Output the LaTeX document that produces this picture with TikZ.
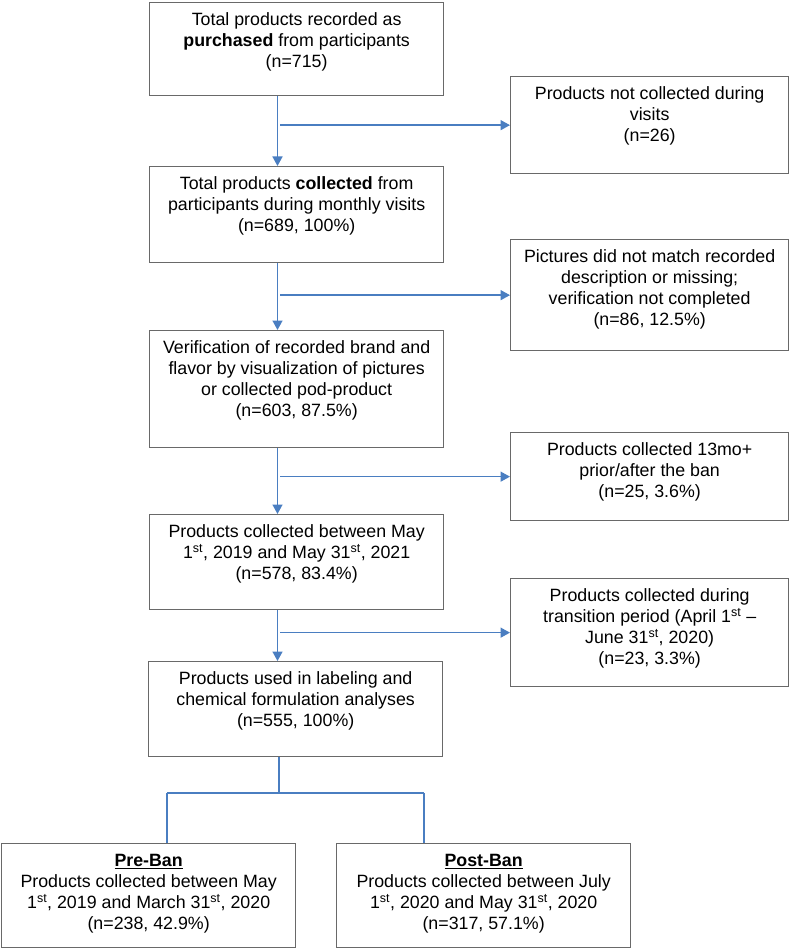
\documentclass[tikz,border=0pt]{standalone}
\usepackage{fontspec}
\setmainfont{Liberation Sans}
\usetikzlibrary{arrows.meta}
\definecolor{lineblue}{RGB}{74,126,193}
\definecolor{boxgray}{RGB}{105,105,105}
\newcommand{\bxt}[3]{\parbox[c][#2][t]{#1}{\centering\rule{0pt}{23pt}#3}}
\tikzset{
  box/.style={draw=boxgray, line width=1.3pt, inner sep=0pt, anchor=north west, fill=white,
    font=\fontsize{17.8pt}{21pt}\selectfont},
  arr/.style={draw=lineblue, line width=1.5pt, -{Triangle[width=10pt,length=9.5pt]}},
  conn/.style={draw=lineblue, line width=1.5pt}
}
\begin{document}
\begin{tikzpicture}[x=1pt,y=-1pt]
\useasboundingbox (0,0) rectangle (791,949);
% main column
\node[box] (b1) at (149,2) {\bxt{294pt}{93pt}{Total products recorded as\\ \textbf{purchased} from participants\\ (n=715)}};
\node[box] (b2) at (149,166) {\bxt{294pt}{96pt}{Total products \textbf{collected} from\\ participants during monthly visits\\ (n=689, 100\%)}};
\node[box] (b3) at (149,330) {\bxt{294pt}{117pt}{Verification of recorded brand and\\ flavor by visualization of pictures\\ or collected pod-product\\ (n=603, 87.5\%)}};
\node[box] (b4) at (149,514) {\bxt{294pt}{95pt}{Products collected between May\\ 1\textsuperscript{st}, 2019 and May 31\textsuperscript{st}, 2021\\ (n=578, 83.4\%)}};
\node[box] (b5) at (148,661) {\bxt{294pt}{95pt}{Products used in labeling and\\ chemical formulation analyses\\ (n=555, 100\%)}};
% side column
\node[box] (s1) at (510,76) {\bxt{278pt}{97pt}{Products not collected during\\ visits\\ (n=26)}};
\node[box] (s2) at (510,239) {\bxt{278pt}{111pt}{Pictures did not match recorded\\ description or missing;\\ verification not completed\\ (n=86, 12.5\%)}};
\node[box] (s3) at (510,432) {\bxt{278pt}{88pt}{Products collected 13mo+\\ prior/after the ban\\ (n=25, 3.6\%)}};
\node[box] (s4) at (510,578) {\bxt{278pt}{108pt}{Products collected during\\ transition period (April 1\textsuperscript{st} --\\ June 31\textsuperscript{st}, 2020)\\ (n=23, 3.3\%)}};
% bottom
\node[box] (pre) at (1,843) {\bxt{294pt}{104pt}{\underline{\textbf{Pre-Ban}}\\ Products collected between May\\ 1\textsuperscript{st}, 2019 and March 31\textsuperscript{st}, 2020\\ (n=238, 42.9\%)}};
\node[box] (post) at (336,843) {\bxt{294pt}{104pt}{\underline{\textbf{Post-Ban}}\\ Products collected between July\\ 1\textsuperscript{st}, 2020 and May 31\textsuperscript{st}, 2020\\ (n=317, 57.1\%)}};
% connectors
\coordinate (vx) at (277.5,0);
\coordinate (hx) at (280,0);
\draw[arr] (b1.south -| vx) -- (b2.north -| vx);
\draw[arr] (b2.south -| vx) -- (b3.north -| vx);
\draw[arr] (b3.south -| vx) -- (b4.north -| vx);
\draw[arr] (b4.south -| vx) -- (b5.north -| vx);
\draw[arr] (s1.west -| hx) -- (s1.west);
\draw[arr] (s2.west -| hx) -- (s2.west);
\draw[arr] (s3.west -| hx) -- (s3.west);
\draw[arr] (s4.west -| hx) -- (s4.west);
\coordinate (jn) at (279,793);
\coordinate (jl) at (167,793);
\coordinate (jr) at (424,793);
\draw[conn] (b5.south -| jn) -- (jn);
\draw[conn] (jl) -- (jr);
\draw[conn] (jl) -- (pre.north -| jl);
\draw[conn] (jr) -- (post.north -| jr);
\end{tikzpicture}
\end{document}
